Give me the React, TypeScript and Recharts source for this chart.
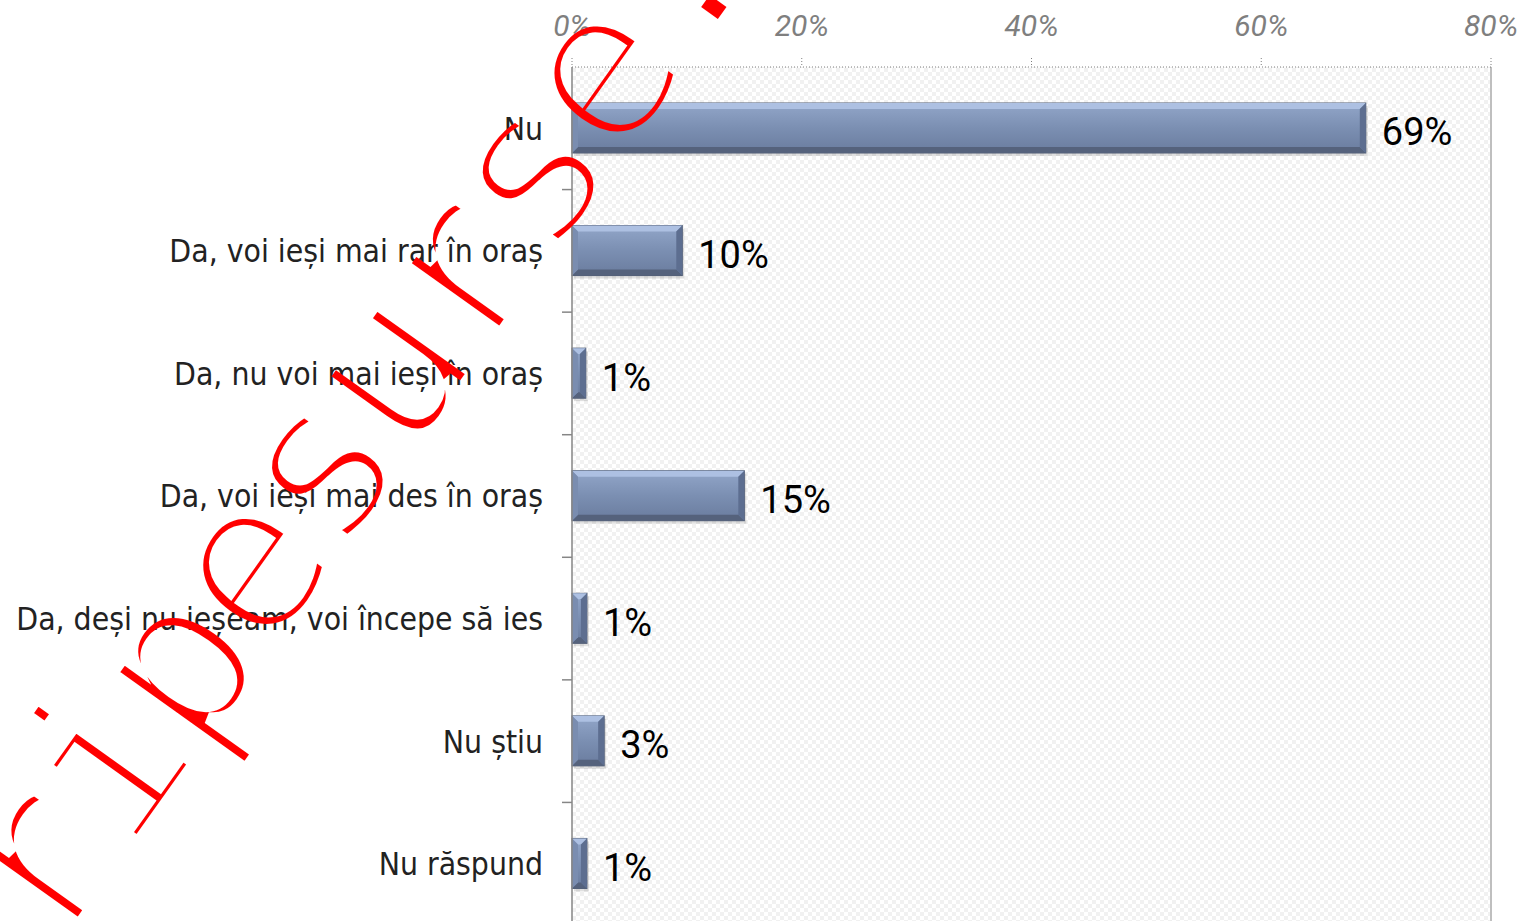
import { Bar, BarChart, CartesianGrid, LabelList, ReferenceLine, XAxis, YAxis } from "recharts";

const categories = [
  "Nu",
  "Da, voi ieși mai rar în oraș",
  "Da, nu voi mai ieși în oraș",
  "Da, voi ieși mai des în oraș",
  "Da, deși nu ieșeam, voi începe să ies",
  "Nu știu",
  "Nu răspund"
];
const shares = [69.1, 9.6, 1.2, 15.0, 1.3, 2.8, 1.3];
const xTicks = [0, 20, 40, 60, 80];
const watermark = "ripesurse..";

const CHART_W = 1524;
const CHART_H = 940;
const PLOT_LEFT = 572;
const PLOT_TOP = 67;
const BOTTOM = 15;
const BAND = (CHART_H - PLOT_TOP - BOTTOM) / categories.length;

const data = categories.map((name, i) => ({ name, value: shares[i] }));

function CategoryTick(props: any) {
  const { y, payload } = props;
  return (
    <g>
      <text
        x={PLOT_LEFT - 29}
        y={y}
        dy="0.36em"
        textAnchor="end"
        fill="#222222"
        fontSize={31.6}
        fontFamily="'DejaVu Sans Condensed', 'DejaVu Sans', sans-serif"
        fontStretch="condensed"
      >
        {payload.value}
      </text>
      <line x1={PLOT_LEFT - 10} x2={PLOT_LEFT} y1={y + BAND / 2} y2={y + BAND / 2} stroke="#868686" strokeWidth={1.5} />
    </g>
  );
}

function PercentTick(props: any) {
  const { x, y, payload } = props;
  return (
    <text x={x} y={y} textAnchor="middle" fill="#7f7f7f" fontSize={30} fontStyle="italic" fontFamily="Roboto, sans-serif">
      {`${payload.value}%`}
    </text>
  );
}

function BevelBar(props: any) {
  const { x, y, width, height } = props;
  if (!width || width <= 0) return null;
  const b = Math.max(1, Math.min(6, width / 2 - 1));
  return (
    <g>
      <rect x={x + 2} y={y + 3} width={width} height={height} fill="rgba(0,0,0,0.12)" />
      <rect x={x} y={y} width={width} height={height} fill="url(#barFace)" stroke="#4f5b72" strokeWidth={1} />
      <polygon points={`${x},${y} ${x + width},${y} ${x + width - b},${y + b} ${x + b},${y + b}`} fill="#adc0e2" />
      <polygon points={`${x},${y + height} ${x + width},${y + height} ${x + width - b},${y + height - b} ${x + b},${y + height - b}`} fill="#55627c" />
      <polygon points={`${x},${y} ${x + b},${y + b} ${x + b},${y + height - b} ${x},${y + height}`} fill="#7a8db0" />
      <polygon points={`${x + width},${y} ${x + width - b},${y + b} ${x + width - b},${y + height - b} ${x + width},${y + height}`} fill="#5d6e90" />
    </g>
  );
}

function Watermark() {
  const step = 121;
  const xs = watermark.split("").map((_, i) => i * step).join(" ");
  const common = {
    x: xs,
    y: 60,
    textAnchor: "middle" as const,
    fontSize: 218,
    fontFamily: "'DejaVu Sans Mono', monospace"
  };
  return (
    <svg width={CHART_W} height={921} style={{ position: "absolute", left: 0, top: 0, pointerEvents: "none" }}>
      <defs>
        <pattern id="checker" width="8" height="8" patternUnits="userSpaceOnUse">
          <rect width="8" height="8" fill="#ffffff" />
          <rect width="4" height="4" fill="#f1f1f1" />
          <rect x="4" y="4" width="4" height="4" fill="#f1f1f1" />
        </pattern>
        <linearGradient id="barFace" x1="0" y1="0" x2="0" y2="1">
          <stop offset="0" stopColor="#92a6c9" />
          <stop offset="0.5" stopColor="#7b8fb2" />
          <stop offset="1" stopColor="#6a7c9e" />
        </linearGradient>
        <mask id="wmMask" maskUnits="userSpaceOnUse" x="-2000" y="-2000" width="6000" height="6000">
          <text {...common} fill="#ffffff" stroke="#000000" strokeWidth={12}>
            {watermark}
          </text>
        </mask>
      </defs>
      <g transform="translate(46 868) rotate(-54.5)">
        <text {...common} fill="#ff0000" mask="url(#wmMask)">
          {watermark}
        </text>
      </g>
    </svg>
  );
}

export default function App() {
  return (
    <div style={{ position: "absolute", left: 0, top: 0, width: CHART_W, height: 921, overflow: "hidden", background: "#ffffff" }}>
      <BarChart
        width={CHART_W}
        height={CHART_H}
        data={data}
        layout="vertical"
        margin={{ top: 0, right: CHART_W - 1491, bottom: BOTTOM, left: 0 }}
        barSize={50}
      >
        <CartesianGrid horizontal={false} vertical={false} fill="url(#checker)" />
        <XAxis
          type="number"
          orientation="top"
          domain={[0, 80]}
          ticks={xTicks}
          height={PLOT_TOP}
          tickSize={9}
          tickMargin={22}
          axisLine={{ stroke: "#7f7f7f", strokeDasharray: "1 2" }}
          tickLine={{ stroke: "#7f7f7f", strokeDasharray: "1 2" }}
          tick={<PercentTick />}
          interval={0}
        />
        <YAxis
          type="category"
          dataKey="name"
          width={PLOT_LEFT}
          axisLine={{ stroke: "#868686", strokeWidth: 1.5 }}
          tickLine={false}
          tick={<CategoryTick />}
          interval={0}
        />
        <ReferenceLine x={80} stroke="#bfbfbf" strokeWidth={2} />
        <Bar dataKey="value" shape={<BevelBar />} isAnimationActive={false}>
          <LabelList
            dataKey="value"
            position="right"
            offset={16}
            formatter={(v: any) => `${Math.round(Number(v))}%`}
            fill="#000000"
            fontSize={38}
            fontFamily="Roboto, sans-serif"
            dy={4}
          />
        </Bar>
      </BarChart>
      <Watermark />
    </div>
  );
}
